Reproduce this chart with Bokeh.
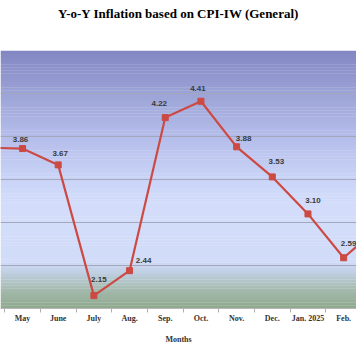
from bokeh.plotting import figure
from bokeh.models import FixedTicker, ColumnDataSource, Range1d
from bokeh.embed import file_html
from bokeh.resources import INLINE
from bokeh.core.properties import value

title = "Y-o-Y Inflation based on CPI-IW (General)"
months = ["Apr. 2024", "May", "June", "July", "Aug.", "Sep.", "Oct.", "Nov.", "Dec.", "Jan. 2025", "Feb.", "Mar."]
inflation = [3.87, 3.86, 3.67, 2.15, 2.44, 4.22, 4.41, 3.88, 3.53, 3.10, 2.59, 2.95]
y_ticks = [2.0, 2.5, 3.0, 3.5, 4.0, 4.5, 5.0]

idx = list(range(len(months)))
# only the labels that fall inside the visible window of the original
shown = idx[1:-1]
labels = [f"{inflation[i]:.2f}" for i in shown]
# label offsets (screen px), like the original
dx = [-2, 2, 5, 14, -6, -3, 7, 4, 5, 5]
dy = [-9, -11, -16, -10, -14, -13, -8, -15, -13, -14]

p = figure(width=356, height=364, output_backend="svg", toolbar_location=None,
           x_range=Range1d(0.383, 10.36), y_range=Range1d(y_ticks[0], y_ticks[-1]),
           min_border_left=0, min_border_right=0, min_border_top=50, min_border_bottom=56)
p.background_fill_color = "white"
p.border_fill_color = "white"
p.outline_line_color = None

# extra blank lines push the title line up to the top of the page
p.title.text = title + "\n\u00a0\n\u00a0"
p.title.text_font = "Liberation Serif"
p.title.text_font_style = "bold"
p.title.text_font_size = "13px"
p.title.align = "center"
p.title.text_color = "#000000"
p.title.standoff = 0

# background gradient bands (decoration only)
stops = [(2.0, (0x8e, 0xa9, 0x8e)), (2.2, (0xa2, 0xb8, 0xaa)), (2.42, (0xc0, 0xcf, 0xe2)),
         (2.55, (0xd1, 0xdc, 0xf8)), (3.2, (0xd3, 0xdd, 0xfb)), (3.5, (0xca, 0xd4, 0xf7)),
         (4.0, (0xb4, 0xbd, 0xea)), (4.5, (0x9c, 0xa3, 0xd6)), (5.0, (0x82, 0x86, 0xc2))]
n = 90
lo, hi = y_ticks[0], y_ticks[-1]
bb, tt, cc = [], [], []
for k in range(n):
    b = lo + (hi - lo) * k / n
    t = lo + (hi - lo) * (k + 1) / n
    m = (b + t) / 2
    for j in range(len(stops) - 1):
        if stops[j][0] <= m <= stops[j + 1][0]:
            f = (m - stops[j][0]) / (stops[j + 1][0] - stops[j][0])
            c = tuple(int(round(stops[j][1][i] + f * (stops[j + 1][1][i] - stops[j][1][i]))) for i in range(3))
            break
    bb.append(b)
    tt.append(min(t + 0.003, hi))
    cc.append("#%02x%02x%02x" % c)
bg = p.quad(left=0.383, right=10.36, bottom=bb, top=tt, fill_color=cc, line_color=None)
bg.level = "image"

src = ColumnDataSource(dict(x=idx, y=inflation))
p.line("x", "y", source=src, line_color="#cc4a43", line_width=2.2)
p.scatter("x", "y", source=src, marker="square", size=6, fill_color="#cc4a43", line_color="#cc4a43")
lsrc = ColumnDataSource(dict(x=shown, y=[inflation[i] for i in shown], lab=labels, dx=dx, dy=dy))
p.text("x", "y", text="lab", source=lsrc, x_offset="dx", y_offset="dy", text_align="center",
       text_baseline="middle", text_font=value("Liberation Sans"), text_font_style="bold",
       text_font_size="8px", text_color="#3a3a3a")

p.yaxis.visible = False
p.ygrid.ticker = FixedTicker(ticks=y_ticks)
p.ygrid.grid_line_color = "#a4a6bc"
p.ygrid.grid_line_width = 1
p.xgrid.visible = False

ax = p.xaxis[0]
ax.ticker = FixedTicker(ticks=idx, minor_ticks=[i + 0.5 for i in idx])
ax.major_label_overrides = {i: m for i, m in zip(idx, months)}
ax.major_tick_line_color = None
ax.major_tick_out = 0
ax.major_tick_in = 0
ax.minor_tick_line_color = "#b0b0b0"
ax.minor_tick_out = 4
ax.minor_tick_in = 0
ax.axis_line_color = "#b8b8b8"
ax.major_label_text_font = "Liberation Serif"
ax.major_label_text_font_style = "bold"
ax.major_label_text_font_size = "8px"
ax.major_label_text_color = "#333333"
ax.major_label_standoff = 1
ax.axis_label = "Months"
ax.axis_label_text_font = "Liberation Serif"
ax.axis_label_text_font_style = "bold"
ax.axis_label_text_font_size = "8px"
ax.axis_label_text_color = "#333333"
ax.axis_label_standoff = 9

open("out.html", "w").write(file_html(p, INLINE))
